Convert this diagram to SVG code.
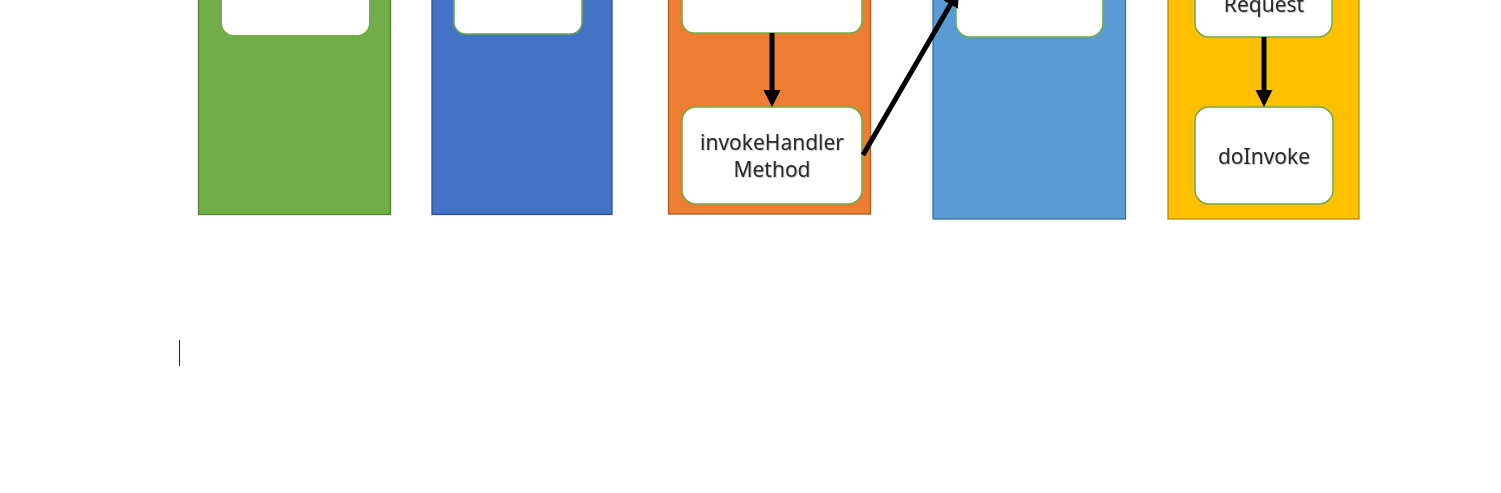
<svg xmlns="http://www.w3.org/2000/svg" width="1501" height="493" viewBox="0 0 1501 493">
<style>
.col{stroke-width:1.3}
.box{fill:#fff;stroke:#70ad47;stroke-width:1.5}
.t{font-family:"Noto Sans","DejaVu Sans",sans-serif;font-size:21px;fill:#2a2a2a;text-anchor:middle}
.c{stroke:#000;stroke-width:5;fill:none}
</style>
<defs>
<marker id="ah" markerWidth="4" markerHeight="4" refX="2.2" refY="2" orient="auto" markerUnits="strokeWidth">
<path d="M0,0.3 L3.4,2 L0,3.7 Z" fill="#000"/>
</marker>
<filter id="sh" x="-10%" y="-10%" width="120%" height="130%"><feDropShadow dx="0.7" dy="0.7" stdDeviation="0.6" flood-color="#000" flood-opacity="0.3"/></filter>
</defs>
<rect width="1501" height="493" fill="#fff"/>
<g id="green">
<rect class="col" x="198.5" y="-20" width="192" height="234.5" fill="#70ad47" stroke="#507e32"/>
<rect id="g1" x="222" y="-60" width="147" height="95" rx="12" fill="#fff"/>
</g>
<g id="blue">
<rect class="col" x="432" y="-20" width="180" height="234.5" fill="#4472c4" stroke="#2f528f"/>
<rect class="box" x="454" y="-60" width="128" height="94" rx="12"/>
</g>
<g id="orange">
<rect class="col" x="668.5" y="-20" width="202" height="234" fill="#ed7d31" stroke="#ae5a21"/>
<rect class="box" x="682" y="-60" width="180" height="93" rx="12"/>
<g id="invokeHandlerMethod">
<rect class="box" x="682" y="107" width="180" height="97" rx="14"/>
<text class="t" x="772" y="150" filter="url(#sh)">invokeHandler</text>
<text class="t" x="772" y="177" filter="url(#sh)">Method</text>
</g>
</g>
<g id="lightblue">
<rect class="col" x="933" y="-20" width="192.5" height="239" fill="#5b9bd5" stroke="#41719c"/>
<rect class="box" x="956" y="-60" width="147" height="97" rx="14"/>
</g>
<g id="yellow">
<rect class="col" x="1168" y="-20" width="191" height="239" fill="#ffc000" stroke="#bc8c00"/>
<g id="request">
<rect class="box" x="1195" y="-60" width="137" height="97" rx="14"/>
<text class="t" x="1264" y="12" filter="url(#sh)">Request</text>
</g>
<g id="doInvoke">
<rect class="box" x="1195" y="107" width="138" height="97" rx="14"/>
<text class="t" x="1264" y="164" filter="url(#sh)">doInvoke</text>
</g>
</g>
<g id="connectors">
<line class="c" x1="772" y1="33" x2="772" y2="101" marker-end="url(#ah)"/>
<line class="c" x1="863" y1="155" x2="956" y2="-5" marker-end="url(#ah)"/>
<line class="c" x1="1264" y1="37" x2="1264" y2="101" marker-end="url(#ah)"/>
</g>
<line x1="179.5" y1="340" x2="179.5" y2="366" stroke="#222" stroke-width="1"/>
</svg>
